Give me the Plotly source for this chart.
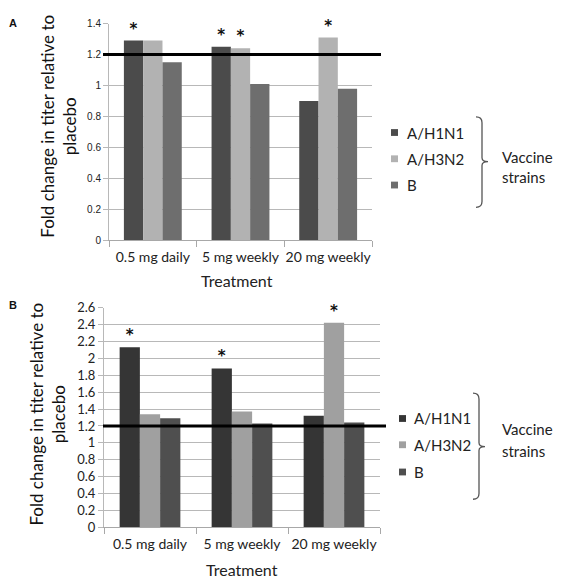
import plotly.graph_objects as go

W, H = 562, 587

categories = ["0.5 mg daily", "5 mg weekly", "20 mg weekly"]
strains = ["A/H1N1", "A/H3N2", "B"]

# Panel A values
a_h1n1 = [1.29, 1.25, 0.90]
a_h3n2 = [1.29, 1.24, 1.31]
a_b = [1.15, 1.01, 0.98]
a_sig_h1n1 = [True, True, False]
a_sig_h3n2 = [False, True, True]
a_sig_b = [False, False, False]

# Panel B values
b_h1n1 = [2.13, 1.88, 1.32]
b_h3n2 = [1.34, 1.37, 2.42]
b_b = [1.29, 1.23, 1.24]
b_sig_h1n1 = [True, True, False]
b_sig_h3n2 = [False, False, True]
b_sig_b = [False, False, False]

threshold = 1.2

colors_a = ["#4b4b4b", "#b2b2b2", "#6e6e6e"]
colors_b = ["#353535", "#a0a0a0", "#4f4f4f"]

def px(x):
    return x / W

def py(y):
    return 1 - y / H

fig = go.Figure()

panel_a = [a_h1n1, a_h3n2, a_b]
panel_a_sig = [a_sig_h1n1, a_sig_h3n2, a_sig_b]
panel_b = [b_h1n1, b_h3n2, b_b]
panel_b_sig = [b_sig_h1n1, b_sig_h3n2, b_sig_b]

for i, name in enumerate(strains):
    fig.add_trace(go.Bar(
        x=categories, y=panel_a[i], name=name, marker_color=colors_a[i],
        marker_line_width=0, xaxis="x", yaxis="y", showlegend=False,
        text=["<b>*</b>" if s else "" for s in panel_a_sig[i]],
        textposition="outside", cliponaxis=False, constraintext="none",
        textfont=dict(family="DejaVu Sans", size=15, color="#111"),
        hoverinfo="skip",
    ))
for i, name in enumerate(strains):
    fig.add_trace(go.Bar(
        x=categories, y=panel_b[i], name=name, marker_color=colors_b[i],
        marker_line_width=0, xaxis="x2", yaxis="y2", showlegend=False,
        text=["<b>*</b>" if s else "" for s in panel_b_sig[i]],
        textposition="outside", cliponaxis=False, constraintext="none",
        textfont=dict(family="DejaVu Sans", size=15, color="#111"),
        hoverinfo="skip",
    ))

axis_common = dict(
    showline=True, linecolor="#b8b8b8", linewidth=1,
    gridcolor="#b8b8b8", gridwidth=1, zeroline=False,
    ticks="outside", ticklen=5, tickcolor="#b8b8b8",
)
xcommon = dict(
    showline=True, linecolor="#a8a8a8", linewidth=1, ticks="outside",
    tickson="boundaries", ticklen=6, tickcolor="#a8a8a8", showgrid=False,
    tickangle=0, ticklabelstandoff=4,
    tickfont=dict(family="Lato", size=14, color="#222"),
)

fig.update_layout(
    width=W, height=H, margin=dict(l=0, r=0, t=0, b=0),
    paper_bgcolor="white", plot_bgcolor="white", hovermode=False,
    barmode="group", bargap=0.34, bargroupgap=0,
    xaxis=dict(domain=[px(109), px(372)], anchor="y", **xcommon),
    yaxis=dict(domain=[py(239), py(16)], anchor="x", range=[0, 1.4], dtick=0.2,
               tickfont=dict(family="Liberation Sans", size=10, color="#222"),
               **axis_common),
    xaxis2=dict(domain=[px(104), px(380)], anchor="y2", **xcommon),
    yaxis2=dict(domain=[py(534), py(308)], anchor="x2", range=[0, 2.6], dtick=0.2,
                tickfont=dict(family="Lato", size=13, color="#222"),
                **axis_common),
)

shapes = []
# threshold lines
shapes.append(dict(type="line", xref="paper", yref="y", x0=px(103), x1=px(381),
                   y0=threshold, y1=threshold, line=dict(color="black", width=3)))
shapes.append(dict(type="line", xref="paper", yref="y2", x0=px(103), x1=px(386),
                   y0=threshold, y1=threshold, line=dict(color="black", width=3)))

def bracket(x, top, mid, bottom, tip):
    xl = x - 6
    path = (f"M {px(xl)},{py(top)} Q {px(x)},{py(top)} {px(x)},{py(top+6)} "
            f"L {px(x)},{py(mid-4)} Q {px(x)},{py(mid)} {px(tip)},{py(mid)} "
            f"Q {px(x)},{py(mid)} {px(x)},{py(mid+4)} "
            f"L {px(x)},{py(bottom-6)} Q {px(x)},{py(bottom)} {px(xl)},{py(bottom)}")
    return dict(type="path", xref="paper", yref="paper", path=path,
                line=dict(color="#555", width=1.3))

shapes.append(bracket(482, 112, 158, 205, 488))
shapes.append(bracket(479, 396, 451, 505, 485))

annotations = []
legend_a = dict(sq=391, tx=405, rows=[128, 155, 182])
legend_b = dict(sq=399, tx=412, rows=[422, 449, 477])
for leg, cols in ((legend_a, colors_a), (legend_b, colors_b)):
    for i, name in enumerate(strains):
        yy = leg["rows"][i]
        shapes.append(dict(type="rect", xref="paper", yref="paper",
                           x0=px(leg["sq"]), x1=px(leg["sq"] + 7),
                           y0=py(yy + 3.5), y1=py(yy - 3.5),
                           fillcolor=cols[i], line=dict(width=0)))
        annotations.append(dict(xref="paper", yref="paper", x=px(leg["tx"]), y=py(yy),
                                xanchor="left", yanchor="middle", showarrow=False,
                                text=name, font=dict(family="Lato", size=15, color="#222")))

for (yv, ys) in ((153, 174), (433, 455)):
    annotations.append(dict(xref="paper", yref="paper", x=px(500), y=py(yv),
                            xanchor="left", yanchor="middle", showarrow=False,
                            text="Vaccine", font=dict(family="Lato", size=15, color="#222")))
    annotations.append(dict(xref="paper", yref="paper", x=px(500), y=py(ys),
                            xanchor="left", yanchor="middle", showarrow=False,
                            text="strains", font=dict(family="Lato", size=15, color="#222")))

ytitle = "Fold change in titer relative to<br>placebo"
for (cx, cy) in ((59, 122), (48, 418)):
    annotations.append(dict(xref="paper", yref="paper", x=px(cx), y=py(cy),
                            xanchor="center", yanchor="middle", showarrow=False,
                            textangle=-90, text=ytitle,
                            font=dict(family="Lato", size=17, color="#111")))

for (cx, cy) in ((237, 280), (242, 577)):
    annotations.append(dict(xref="paper", yref="paper", x=px(cx), y=py(cy),
                            xanchor="center", yanchor="middle", showarrow=False,
                            text="Treatment", font=dict(family="Lato", size=16, color="#222")))

for (lab, cx, cy) in (("A", 13, 15), ("B", 13, 305)):
    annotations.append(dict(xref="paper", yref="paper", x=px(cx), y=py(cy),
                            xanchor="center", yanchor="middle", showarrow=False,
                            text=f"<b>{lab}</b>", font=dict(family="Liberation Sans", size=11, color="#111")))

fig.update_layout(shapes=shapes, annotations=annotations)
post = ("var gd=document.getElementById('{plot_id}');"
        "gd.style.position='fixed';gd.style.top='0px';gd.style.left='0px';"
        "document.body.style.margin='0';"
        "document.documentElement.style.overflow='hidden';"
        "document.body.style.overflow='hidden';")
fig.write_html("out.html", config=dict(displayModeBar=False, staticPlot=True),
               post_script=post)
